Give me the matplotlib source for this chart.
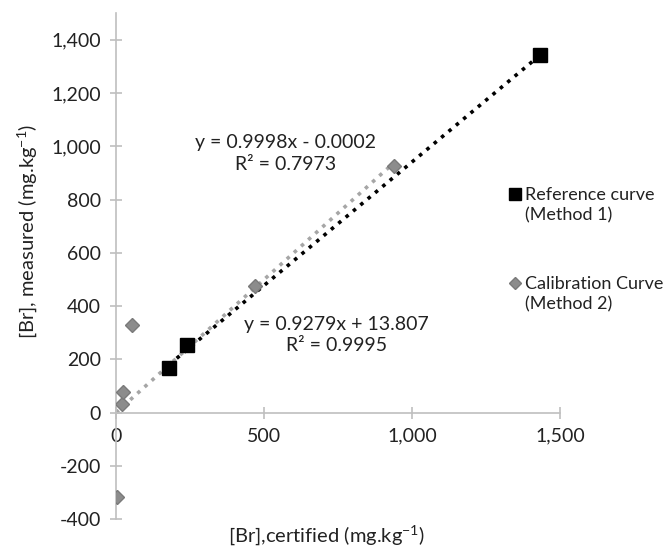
import numpy as np
import matplotlib.pyplot as plt
from matplotlib.lines import Line2D
from matplotlib.ticker import FuncFormatter

plt.rcParams['font.family'] = ['Lato', 'DejaVu Sans']
plt.rcParams['mathtext.fontset'] = 'custom'
plt.rcParams['mathtext.rm'] = 'Lato'
plt.rcParams['mathtext.it'] = 'Lato:italic'

# Reference curve (Method 1)
ref_x = [180, 240, 1430]
ref_y = [169, 252, 1344]

# Calibration curve (Method 2)
cal_x = [4, 20, 24, 53, 469, 937]
cal_y = [-316, 32, 77, 330, 475, 925]

# trendlines as given on the chart
ref_fit = (0.9279, 13.807)
cal_fit = (0.9998, -0.0002)

ref_label = 'Reference curve\n(Method 1)'
cal_label = 'Calibration Curve\n(Method 2)'

fig = plt.figure(figsize=(6.67, 5.47), dpi=100)
ax = fig.add_axes([0.174, 0.051, 0.666, 0.925])

axis_grey = '#bfbfbf'
txt = '#222222'
ref_col = 'black'
cal_col = '#8c8c8c'

# trendlines
xr = np.array([min(ref_x), max(ref_x)])
ax.plot(xr, ref_fit[0] * xr + ref_fit[1], ls=':', color='black', lw=2.6, zorder=2)
xc = np.array([0, max(cal_x)])
ax.plot(xc, cal_fit[0] * xc + cal_fit[1], ls=':', color='#a6a6a6', lw=2.6, zorder=1)

ax.plot(ref_x, ref_y, 's', color=ref_col, ms=10, zorder=4)
ax.plot(cal_x, cal_y, 'D', color=cal_col, mec='#7a7a7a', ms=7, zorder=3)

ax.set_xlim(0, 1500)
ax.set_ylim(-400, 1500)
ax.set_xticks([0, 500, 1000, 1500])
ax.set_yticks(np.arange(-400, 1401, 200))
fmt = FuncFormatter(lambda v, p: f'{v:,.0f}')
ax.xaxis.set_major_formatter(fmt)
ax.yaxis.set_major_formatter(fmt)

for s in ['top', 'right']:
    ax.spines[s].set_visible(False)
ax.spines['bottom'].set_position(('data', 0))
ax.spines['left'].set_position(('data', 0))
for s in ['bottom', 'left']:
    ax.spines[s].set_color(axis_grey)
    ax.spines[s].set_linewidth(1.2)
ax.tick_params(direction='inout', length=8, width=1.2, color=axis_grey,
               labelsize=14, labelcolor=txt, pad=7)

ax.text(571, 973, 'y = 0.9998x - 0.0002\nR² = 0.7973', ha='center', va='center',
        fontsize=14, color=txt, linespacing=1.3)
ax.text(743, 292, 'y = 0.9279x + 13.807\nR² = 0.9995', ha='center', va='center',
        fontsize=14, color=txt, linespacing=1.3)

fig.text(0.49, 0.022, '[Br],certified (mg.kg$^{-1}$)', ha='center', va='center',
         fontsize=14.5, color=txt)
fig.text(0.04, 0.576, '[Br], measured (mg.kg$^{-1}$)', ha='center', va='center',
         rotation=90, fontsize=14.5, color=txt)

# legend, drawn by hand so the marker sits on the first text line
fig.add_artist(Line2D([0.772], [0.646], marker='s', ms=9, color=ref_col,
                      transform=fig.transFigure))
fig.text(0.787, 0.625, ref_label, ha='left', va='center', fontsize=13,
         color=txt, linespacing=1.3)
fig.add_artist(Line2D([0.772], [0.483], marker='D', ms=6.5, color=cal_col,
                      mec='#7a7a7a', transform=fig.transFigure))
fig.text(0.787, 0.462, cal_label, ha='left', va='center', fontsize=13,
         color=txt, linespacing=1.3)

fig.savefig('out.png', dpi=100)
